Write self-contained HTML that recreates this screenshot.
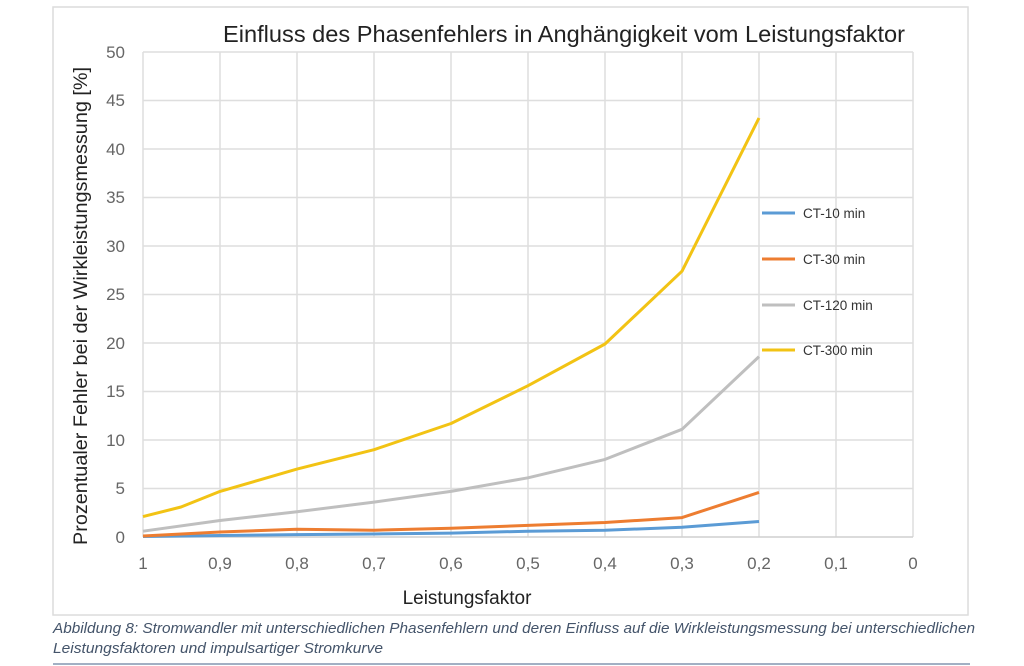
<!DOCTYPE html>
<html><head><meta charset="utf-8"><style>body{margin:0;background:#fff}svg{display:block}</style></head><body>
<svg width="1024" height="666" xmlns="http://www.w3.org/2000/svg" font-family="Liberation Sans, sans-serif">
<rect x="53" y="7" width="915" height="608" fill="#fff" stroke="#dcdcdc" stroke-width="1.5"/>
<text x="564" y="42" text-anchor="middle" font-size="23.5" fill="#222" textLength="682" lengthAdjust="spacingAndGlyphs">Einfluss des Phasenfehlers in Anghängigkeit vom Leistungsfaktor</text>
<g stroke="#dedede" stroke-width="1.5">
<line x1="143" y1="52" x2="913" y2="52"/><line x1="143" y1="100.5" x2="913" y2="100.5"/><line x1="143" y1="149" x2="913" y2="149"/><line x1="143" y1="197.5" x2="913" y2="197.5"/><line x1="143" y1="246" x2="913" y2="246"/><line x1="143" y1="294.5" x2="913" y2="294.5"/><line x1="143" y1="343" x2="913" y2="343"/><line x1="143" y1="391.5" x2="913" y2="391.5"/><line x1="143" y1="440" x2="913" y2="440"/><line x1="143" y1="488.5" x2="913" y2="488.5"/>
<line x1="143" y1="52" x2="143" y2="537"/><line x1="220" y1="52" x2="220" y2="537"/><line x1="297" y1="52" x2="297" y2="537"/><line x1="374" y1="52" x2="374" y2="537"/><line x1="451" y1="52" x2="451" y2="537"/><line x1="528" y1="52" x2="528" y2="537"/><line x1="605" y1="52" x2="605" y2="537"/><line x1="682" y1="52" x2="682" y2="537"/><line x1="759" y1="52" x2="759" y2="537"/><line x1="836" y1="52" x2="836" y2="537"/><line x1="913" y1="52" x2="913" y2="537"/>
</g>
<line x1="143" y1="537" x2="913" y2="537" stroke="#cfcfcf" stroke-width="1.5"/>
<g font-size="17" fill="#666" text-anchor="end">
<text x="125" y="58">50</text><text x="125" y="106">45</text><text x="125" y="155">40</text><text x="125" y="203">35</text><text x="125" y="252">30</text><text x="125" y="300">25</text><text x="125" y="349">20</text><text x="125" y="397">15</text><text x="125" y="446">10</text><text x="125" y="494">5</text><text x="125" y="543">0</text>
</g>
<g font-size="17" fill="#666" text-anchor="middle">
<text x="143" y="569">1</text><text x="220" y="569">0,9</text><text x="297" y="569">0,8</text><text x="374" y="569">0,7</text><text x="451" y="569">0,6</text><text x="528" y="569">0,5</text><text x="605" y="569">0,4</text><text x="682" y="569">0,3</text><text x="759" y="569">0,2</text><text x="836" y="569">0,1</text><text x="913" y="569">0</text>
</g>
<text x="467" y="604" text-anchor="middle" font-size="19" fill="#222">Leistungsfaktor</text>
<text transform="translate(87,306) rotate(-90)" text-anchor="middle" font-size="19" fill="#222" textLength="478" lengthAdjust="spacingAndGlyphs">Prozentualer Fehler bei der Wirkleistungsmessung [%]</text>
<g fill="none" stroke-width="3" stroke-linejoin="round">
<polyline stroke="#5b9bd5" points="143,536.5 220,535.5 297,534.6 374,534 451,533.1 528,531.2 605,530.2 682,527.3 759,521.5"/>
<polyline stroke="#ed7d31" points="143,536 220,532 297,529.2 374,530.2 451,528.3 528,525.4 605,522.5 682,517.6 759,492.4"/>
<polyline stroke="#bfbfbf" points="143,531.2 220,520.5 297,511.8 374,502.1 451,491.4 528,477.8 605,459.4 682,429.3 759,356.6"/>
<polyline stroke="#f2c314" points="143,516.6 181,507 220,491.4 297,469.1 374,449.7 451,423.5 528,385.7 605,344 682,271.2 759,118"/>
</g>
<g stroke-width="3">
<line x1="762" y1="213" x2="795" y2="213" stroke="#5b9bd5"/>
<line x1="762" y1="259" x2="795" y2="259" stroke="#ed7d31"/>
<line x1="762" y1="305" x2="795" y2="305" stroke="#bfbfbf"/>
<line x1="762" y1="350" x2="795" y2="350" stroke="#f2c314"/>
</g>
<g font-size="13.5" fill="#333">
<text x="803" y="218">CT-10 min</text><text x="803" y="264">CT-30 min</text><text x="803" y="310">CT-120 min</text><text x="803" y="355">CT-300 min</text>
</g>
<g font-size="14.5" font-style="italic" fill="#44546a">
<text x="53" y="633" textLength="922" lengthAdjust="spacingAndGlyphs">Abbildung 8: Stromwandler mit unterschiedlichen Phasenfehlern und deren Einfluss auf die Wirkleistungsmessung bei unterschiedlichen</text>
<text x="53" y="653" textLength="330" lengthAdjust="spacingAndGlyphs">Leistungsfaktoren und impulsartiger Stromkurve</text>
</g>
<line x1="53" y1="664" x2="970" y2="664" stroke="#8496b0" stroke-width="1.5"/>
</svg>
</body></html>
